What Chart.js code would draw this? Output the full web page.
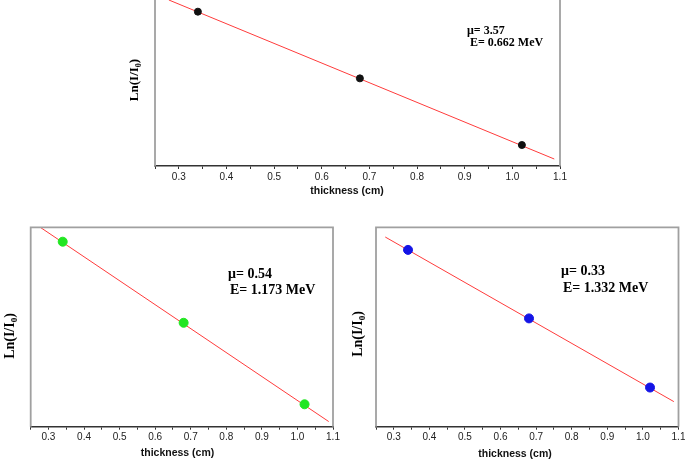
<!DOCTYPE html>
<html lang="en">
<head>
  <meta charset="UTF-8">
  <title>Ln(I/I0) vs thickness</title>
  <style>
    body {
      margin: 0;
      width: 685px;
      height: 460px;
      position: relative;
      overflow: hidden;
      background: #fff;
    }
    canvas {
      position: absolute;
    }
  </style>
</head>
<body>
  <canvas id="c1" style="left:100px; top:-10px;" width="480" height="210"></canvas>
  <canvas id="c2" style="left:0px; top:200px;" width="343" height="260"></canvas>
  <canvas id="c3" style="left:340px; top:200px;" width="345" height="260"></canvas>

  <script src="https://cdn.jsdelivr.net/npm/chart.js"></script>
  <script>
    // measured points (thickness in cm, ln(I/I0))
    const thickness = [0.34, 0.68, 1.02];
    const lnCs = [-1.214, -2.428, -3.641];      // 0.662 MeV
    const lnCo1 = [-0.184, -0.367, -0.551];     // 1.173 MeV
    const lnCo2 = [-0.112, -0.224, -0.337];     // 1.332 MeV

    // fitted lines (two end points each)
    const fitCsX = [0.279, 1.088];
    const fitCsY = [-1.001, -3.896];
    const fitCo1X = [0.274, 1.088];
    const fitCo1Y = [-0.150, -0.590];
    const fitCo2X = [0.276, 1.087];
    const fitCo2Y = [-0.091, -0.360];

    const muValues = ['3.57', '0.54', '0.33'];
    const energies = ['0.662', '1.173', '1.332'];
    const xMin = 0.25, xMax = 1.1;

    const serif = '"Liberation Serif", "Times New Roman", serif';
    const sans = '"Liberation Sans", Arial, sans-serif';

    function toPts(xs, ys) {
      return xs.map((x, i) => ({ x: x, y: ys[i] }));
    }

    // frame, y label with subscript, x title and the mu / E note
    const extras = {
      id: 'extras',
      afterDraw(chart, args, o) {
        const ctx = chart.ctx;
        const a = chart.chartArea;
        ctx.save();
        ctx.strokeStyle = '#a0a0a0';
        ctx.lineWidth = 1.8;
        ctx.beginPath();
        ctx.moveTo(a.left, a.bottom);
        ctx.lineTo(a.left, a.top);
        ctx.lineTo(a.right, a.top);
        ctx.lineTo(a.right, a.bottom);
        ctx.stroke();

        // y label
        const fs = o.yFont;
        ctx.fillStyle = '#000';
        ctx.font = 'bold ' + fs + 'px ' + serif;
        const w1 = ctx.measureText('Ln(I/I').width;
        ctx.font = 'bold ' + Math.round(fs * 0.65) + 'px ' + serif;
        const w2 = ctx.measureText('0').width;
        ctx.font = 'bold ' + fs + 'px ' + serif;
        const w3 = ctx.measureText(')').width;
        const total = w1 + w2 + w3;
        ctx.translate(o.yLab[0], o.yLab[1]);
        ctx.rotate(-Math.PI / 2);
        ctx.textBaseline = 'middle';
        ctx.textAlign = 'left';
        let px = -total / 2;
        ctx.fillText('Ln(I/I', px, 0);
        px += w1;
        ctx.font = 'bold ' + Math.round(fs * 0.65) + 'px ' + serif;
        ctx.fillText('0', px, fs * 0.3);
        px += w2;
        ctx.font = 'bold ' + fs + 'px ' + serif;
        ctx.fillText(')', px, 0);
        ctx.setTransform(1, 0, 0, 1, 0, 0);

        // x title
        ctx.font = 'bold 10.5px ' + sans;
        ctx.fillStyle = '#111';
        ctx.textAlign = 'center';
        ctx.textBaseline = 'middle';
        ctx.fillText('thickness (cm)', o.xLab[0], o.xLab[1]);

        // note
        ctx.font = 'bold ' + o.noteFont + 'px ' + serif;
        ctx.fillStyle = '#000';
        ctx.textAlign = 'left';
        ctx.fillText('\u03bc= ' + o.mu, o.note[0], o.note[1]);
        ctx.fillText('E= ' + o.energy + ' MeV', o.note[0] + o.noteShift, o.note[1] + o.noteGap);
        ctx.restore();
      }
    };

    function makeChart(id, cfg) {
      return new Chart(document.getElementById(id), {
        type: 'scatter',
        data: {
          datasets: [
            {
              data: toPts(thickness, cfg.ys),
              backgroundColor: cfg.color,
              borderColor: cfg.color,
              pointRadius: cfg.radius,
              pointHoverRadius: cfg.radius
            },
            {
              type: 'line',
              data: toPts(cfg.fitX, cfg.fitY),
              borderColor: '#ff3b3b',
              borderWidth: 1,
              pointRadius: 0,
              fill: false
            }
          ]
        },
        options: {
          responsive: false,
          animation: false,
          events: [],
          layout: { padding: cfg.padding },
          plugins: {
            legend: { display: false },
            tooltip: { enabled: false },
            extras: cfg.extras
          },
          scales: {
            x: {
              type: 'linear',
              min: xMin,
              max: xMax,
              afterFit(scale) {
                scale.height = 20;
                scale.paddingLeft = 0;
                scale.paddingRight = 0;
              },
              border: { display: true, color: '#333', width: 1.5 },
              grid: {
                display: true,
                drawOnChartArea: false,
                drawTicks: true,
                tickLength: 3,
                tickColor: '#333'
              },
              ticks: {
                stepSize: 0.05,
                autoSkip: false,
                maxRotation: 0,
                padding: 2,
                color: '#222',
                font: { family: sans, size: 10 },
                callback: v => Math.abs(v * 10 - Math.round(v * 10)) < 1e-6 ? v.toFixed(1) : ''
              }
            },
            y: {
              display: false,
              min: cfg.yMin,
              max: cfg.yMax
            }
          }
        },
        plugins: [extras]
      });
    }

    makeChart('c1', {
      ys: lnCs, fitX: fitCsX, fitY: fitCsY,
      color: '#111', radius: 3.5,
      yMin: -4.023, yMax: -0.965,
      padding: { left: 55, right: 20, top: 8, bottom: 14 },
      extras: {
        yFont: 13, yLab: [35, 90], xLab: [247, 200.7],
        mu: muValues[0], energy: energies[0],
        noteFont: 12, note: [367, 41], noteShift: 3, noteGap: 12
      }
    });

    makeChart('c2', {
      ys: lnCo1, fitX: fitCo1X, fitY: fitCo1Y,
      color: '#22e622', radius: 4.5,
      yMin: -0.6016, yMax: -0.1515,
      padding: { left: 30.7, right: 10, top: 27.3, bottom: 13.3 },
      extras: {
        yFont: 14, yLab: [10, 136], xLab: [177.5, 253],
        mu: muValues[1], energy: energies[1],
        noteFont: 14, note: [228, 74], noteShift: 2, noteGap: 16
      }
    });

    makeChart('c3', {
      ys: lnCo2, fitX: fitCo2X, fitY: fitCo2Y,
      color: '#1414e6', radius: 4.5,
      yMin: -0.4010, yMax: -0.0751,
      padding: { left: 36, right: 6.5, top: 27.3, bottom: 13.3 },
      extras: {
        yFont: 14, yLab: [18, 134], xLab: [175, 254],
        mu: muValues[2], energy: energies[2],
        noteFont: 14, note: [221, 71], noteShift: 2, noteGap: 17
      }
    });
  </script>
</body>
</html>
